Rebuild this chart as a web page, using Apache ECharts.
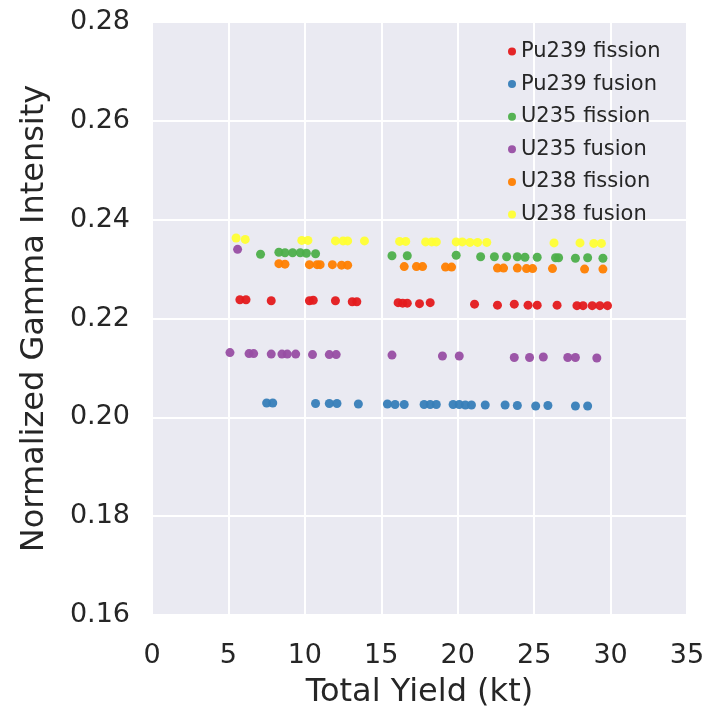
<!DOCTYPE html>
<html>
<head>
<meta charset="utf-8">
<script src="https://cdn.jsdelivr.net/npm/echarts@6/dist/echarts.min.js"></script>
<style>html,body{margin:0;padding:0;background:#fff}#c{width:713px;height:721px}</style>
</head>
<body>
<div id="c"></div>
<script>
const seriesNames = ['Pu239 fission', 'Pu239 fusion', 'U235 fission', 'U235 fusion', 'U238 fission', 'U238 fusion'];
const seriesColors = ['#e41a1c', '#377eb8', '#4daf4a', '#984ea3', '#ff7f00', '#ffff33'];

const pu239FissionX = [5.75, 6.15, 7.8, 10.3, 10.55, 12.0, 13.1, 13.4, 16.1, 16.4, 16.7, 17.5, 18.2, 21.1, 22.6, 23.7, 24.6, 25.2, 26.5, 27.8, 28.2, 28.8, 29.3, 29.8];
const pu239FissionY = [0.2238, 0.2238, 0.2236, 0.2236, 0.2237, 0.2236, 0.2234, 0.2234, 0.2232, 0.2231, 0.2231, 0.2230, 0.2232, 0.2229, 0.2227, 0.2229, 0.2227, 0.2227, 0.2227, 0.2226, 0.2226, 0.2226, 0.2226, 0.2226];

const pu239FusionX = [7.5, 7.9, 10.7, 11.6, 12.1, 13.5, 15.4, 15.9, 16.5, 17.8, 18.2, 18.6, 19.7, 20.1, 20.5, 20.9, 21.8, 23.1, 23.9, 25.1, 25.9, 27.7, 28.5];
const pu239FusionY = [0.2029, 0.2029, 0.2028, 0.2028, 0.2028, 0.2027, 0.2027, 0.2026, 0.2026, 0.2026, 0.2026, 0.2026, 0.2026, 0.2026, 0.2025, 0.2025, 0.2025, 0.2025, 0.2024, 0.2023, 0.2024, 0.2023, 0.2023];

const u235FissionX = [7.1, 8.3, 8.7, 9.2, 9.7, 10.1, 10.7, 15.7, 16.7, 19.9, 21.5, 22.4, 23.2, 23.9, 24.4, 25.2, 26.4, 26.6, 27.7, 28.5, 29.5];
const u235FissionY = [0.2330, 0.2334, 0.2333, 0.2333, 0.2333, 0.2332, 0.2331, 0.2327, 0.2327, 0.2328, 0.2325, 0.2325, 0.2325, 0.2325, 0.2324, 0.2324, 0.2323, 0.2323, 0.2322, 0.2323, 0.2322];

const u235FusionX = [5.1, 5.6, 6.35, 6.65, 7.8, 8.5, 8.85, 9.4, 10.5, 11.6, 12.05, 15.7, 19.0, 20.1, 23.7, 24.7, 25.6, 27.2, 27.7, 29.1];
const u235FusionY = [0.2131, 0.2340, 0.2129, 0.2129, 0.2128, 0.2128, 0.2128, 0.2128, 0.2127, 0.2127, 0.2127, 0.2126, 0.2124, 0.2124, 0.2121, 0.2121, 0.2122, 0.2121, 0.2121, 0.2120];

const u238FissionX = [8.3, 8.7, 10.3, 10.8, 11.0, 11.8, 12.4, 12.8, 16.5, 17.3, 17.7, 19.2, 19.6, 22.6, 23.0, 23.9, 24.5, 24.9, 26.2, 28.3, 29.5];
const u238FissionY = [0.2311, 0.2310, 0.2309, 0.2309, 0.2309, 0.2309, 0.2308, 0.2308, 0.2305, 0.2305, 0.2305, 0.2304, 0.2304, 0.2302, 0.2302, 0.2302, 0.2301, 0.2301, 0.2301, 0.2300, 0.2300];

const u238FusionX = [5.5, 6.1, 9.8, 10.2, 12.0, 12.5, 12.8, 13.9, 16.2, 16.6, 17.9, 18.3, 18.6, 19.9, 20.3, 20.8, 21.3, 21.9, 26.3, 28.0, 28.9, 29.4];
const u238FusionY = [0.2363, 0.2360, 0.2358, 0.2358, 0.2357, 0.2357, 0.2357, 0.2357, 0.2356, 0.2356, 0.2355, 0.2355, 0.2355, 0.2355, 0.2355, 0.2354, 0.2354, 0.2354, 0.2353, 0.2353, 0.2352, 0.2352];

const xTicks = [0, 5, 10, 15, 20, 25, 30, 35];
const yTicks = [0.16, 0.18, 0.20, 0.22, 0.24, 0.26, 0.28];

const allX = [pu239FissionX, pu239FusionX, u235FissionX, u235FusionX, u238FissionX, u238FusionX];
const allY = [pu239FissionY, pu239FusionY, u235FissionY, u235FusionY, u238FissionY, u238FusionY];

const FONT = 'DejaVu Sans';
const chart = echarts.init(document.getElementById('c'));
chart.setOption({
  backgroundColor: '#ffffff',
  animation: false,
  grid: { left: 152, right: 26, top: 22, bottom: 106, show: true, backgroundColor: '#eaeaf2', borderWidth: 0 },
  xAxis: {
    type: 'value', min: xTicks[0], max: xTicks[xTicks.length - 1], interval: 5,
    name: 'Total Yield (kt)', nameLocation: 'middle', nameGap: 62,
    nameTextStyle: { fontFamily: FONT, fontSize: 32, color: '#262626' },
    axisLine: { show: false }, axisTick: { show: false },
    axisLabel: { fontFamily: FONT, fontSize: 27, color: '#262626', margin: 27 },
    splitLine: { show: true, lineStyle: { color: '#ffffff', width: 2 } }
  },
  yAxis: {
    type: 'value', min: yTicks[0], max: yTicks[yTicks.length - 1], interval: 0.02,
    name: 'Normalized Gamma Intensity', nameLocation: 'middle', nameGap: 101,
    nameTextStyle: { fontFamily: FONT, fontSize: 32, color: '#262626' },
    axisLine: { show: false }, axisTick: { show: false },
    axisLabel: { fontFamily: FONT, fontSize: 27, color: '#262626', margin: 22, formatter: v => v.toFixed(2) },
    splitLine: { show: true, lineStyle: { color: '#ffffff', width: 2 } }
  },
  legend: {
    orient: 'vertical', left: 503, top: 36, itemGap: 11.6, itemWidth: 8, itemHeight: 8,
    icon: 'circle', textStyle: { fontFamily: FONT, fontSize: 21, color: '#262626' },
    data: seriesNames
  },
  series: seriesNames.map((name, i) => ({
    name, type: 'scatter', symbolSize: 9,
    itemStyle: { color: seriesColors[i], opacity: 0.95 },
    data: allX[i].map((x, j) => [x, allY[i][j]])
  }))
});
</script>
</body>
</html>
